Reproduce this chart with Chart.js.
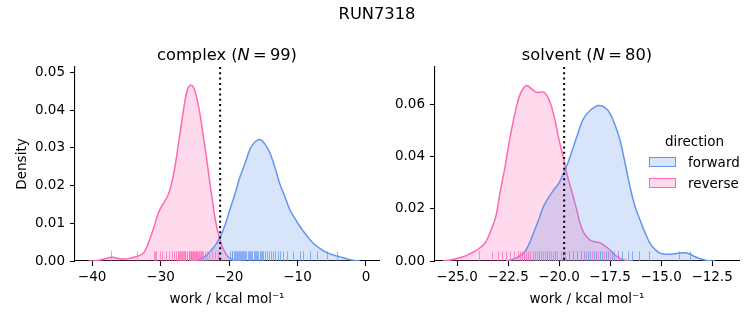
<!DOCTYPE html>
<html><head><meta charset="utf-8">
<script src="https://cdn.jsdelivr.net/npm/chart.js@4"></script>
<style>
body{margin:0;background:#fff;width:753px;height:325px;position:relative;overflow:hidden;font-family:"DejaVu Sans",sans-serif;color:#000}
canvas{position:absolute;top:0}
.t{position:absolute;white-space:nowrap;transform:translate(-50%,-50%);z-index:2}
.l{position:absolute;white-space:nowrap;transform:translateY(-50%);z-index:2;font-size:13.5px}
.p{position:absolute;box-sizing:border-box;width:27px;height:10.5px;z-index:2}
</style></head><body>
<canvas id="c1" width="380" height="325" style="left:0"></canvas>
<canvas id="c2" width="373" height="325" style="left:380px"></canvas>
<div class="t" style="left:377px;top:13px;font-size:16.3px">RUN7318</div>
<div class="t" style="left:227px;top:54px;font-size:16.3px">complex (<i>N</i>&#8201;=&#8201;99)</div>
<div class="t" style="left:587px;top:54px;font-size:16.3px">solvent (<i>N</i>&#8201;=&#8201;80)</div>
<div class="t" style="left:694.5px;top:141px;font-size:13.5px">direction</div>
<div class="p" style="left:649px;top:156.5px;background:rgba(100,149,237,0.25);border:1.5px solid rgb(100,149,237)"></div>
<div class="l" style="left:688px;top:162px">forward</div>
<div class="p" style="left:649px;top:177.5px;background:rgba(255,105,180,0.25);border:1.5px solid rgb(255,105,180)"></div>
<div class="l" style="left:688px;top:183px">reverse</div>
<script>
// ---------- data ----------
const complexForwardX = [-25.5,-24.5,-23.5,-22.8,-22.0,-21.3,-20.6,-19.9,-19.1,-18.4,-17.6,-16.9,-16.2,-15.5,-14.8,-14.0,-13.3,-12.6,-11.8,-11.1,-10.3,-9.6,-8.6,-7.7,-6.7,-5.7,-4.8,-3.8,-2.8,-1.85,-0.9];
const complexForwardY = [0,0.0003,0.0012,0.0025,0.0042,0.0064,0.0095,0.0135,0.018,0.0223,0.0262,0.0298,0.0316,0.0322,0.0311,0.0285,0.0248,0.0205,0.0168,0.0135,0.011,0.009,0.0066,0.0047,0.0033,0.0022,0.0016,0.0011,0.0006,0.0002,0];
const complexReverseX = [-40.5,-39.5,-38.5,-37.5,-37.0,-36.3,-35.4,-34.5,-33.5,-32.8,-32.4,-32.0,-31.5,-31.0,-30.5,-30.0,-29.4,-28.9,-28.4,-27.9,-27.4,-26.9,-26.4,-26.0,-25.6,-25.2,-24.8,-24.3,-23.8,-23.3,-22.8,-22.3,-21.8,-21.3,-20.8,-20.2,-19.6,-18.8,-18.0];
const complexReverseY = [0,0.0001,0.0004,0.0009,0.001,0.0007,0.0005,0.0007,0.0012,0.0017,0.0023,0.0037,0.0062,0.0088,0.0118,0.014,0.0158,0.0175,0.0205,0.025,0.031,0.037,0.0428,0.0458,0.0466,0.046,0.0438,0.0395,0.0335,0.0275,0.0206,0.0144,0.009,0.0055,0.003,0.0012,0.0004,0.0001,0];
const solventForwardX = [-22.6,-22.2,-21.75,-21.5,-21.26,-21.0,-20.77,-20.5,-20.28,-20.0,-19.79,-19.55,-19.3,-19.05,-18.81,-18.48,-18.07,-17.75,-17.5,-17.25,-17.01,-16.75,-16.52,-16.28,-16.03,-15.78,-15.54,-15.3,-15.05,-14.7,-14.4,-13.91,-13.6,-13.42,-13.1,-12.76,-12.35];
const solventForwardY = [0,0.0008,0.003,0.006,0.0106,0.0158,0.0208,0.0245,0.0271,0.03,0.0335,0.038,0.0437,0.0495,0.0545,0.0577,0.0596,0.0588,0.0565,0.052,0.0463,0.037,0.0284,0.021,0.0157,0.0108,0.0068,0.0045,0.003,0.0026,0.0027,0.0032,0.0028,0.0019,0.0009,0.0002,0];
const solventReverseX = [-25.7,-25.2,-24.7,-24.3,-23.9,-23.6,-23.4,-23.1,-22.9,-22.65,-22.4,-22.15,-21.9,-21.6,-21.35,-21.1,-20.85,-20.7,-20.5,-20.36,-20.2,-20.03,-19.8,-19.62,-19.35,-19.13,-18.97,-18.8,-18.64,-18.48,-18.2,-17.99,-17.75,-17.5,-17.25,-17.0,-16.7,-16.4];
const solventReverseY = [0,0.0006,0.0016,0.003,0.0049,0.0072,0.0106,0.017,0.0259,0.036,0.0475,0.057,0.0641,0.0673,0.066,0.0647,0.0648,0.0645,0.062,0.059,0.054,0.0475,0.04,0.0335,0.026,0.0195,0.0144,0.011,0.0093,0.008,0.0073,0.007,0.0058,0.0042,0.0022,0.001,0.0002,0];

const complexForwardRug = [-19.8,-19.6,-19.5,-19.3,-19.2,-19.0,-18.9,-18.7,-18.6,-18.4,-18.3,-18.1,-18.0,-17.8,-17.6,-17.5,-17.3,-17.1,-16.9,-16.8,-16.6,-16.4,-16.2,-16.0,-15.9,-15.7,-15.5,-15.3,-15.2,-15.0,-14.7,-14.5,-14.2,-13.9,-13.6,-13.3,-12.9,-12.5,-12.1,-11.6,-10.6,-9.6,-9.2,-8.2,-7.2,-5.7,-4.2];
const complexReverseRug = [-37.3,-33.4,-31.0,-30.8,-30.6,-30.1,-29.8,-29.2,-28.8,-28.3,-28.0,-27.7,-27.5,-27.4,-27.3,-27.1,-27.0,-26.9,-26.7,-26.6,-26.5,-26.4,-26.2,-26.1,-25.9,-25.8,-25.7,-25.6,-25.5,-25.4,-25.3,-25.2,-25.1,-25.0,-24.9,-24.8,-24.7,-24.5,-24.4,-24.2,-24.1,-24.0,-23.8,-23.5,-23.2,-22.9,-22.5,-22.0,-21.6];
const solventForwardRug = [-21.0,-20.6,-20.2,-19.8,-19.5,-19.3,-19.1,-18.9,-18.8,-18.6,-18.5,-18.3,-18.2,-18.0,-17.9,-17.7,-17.6,-17.4,-17.3,-17.1,-16.9,-16.6,-16.4,-16.1,-15.6,-14.1,-13.6];
const solventReverseRug = [-23.9,-23.3,-23.0,-22.8,-22.6,-22.4,-22.2,-22.0,-21.9,-21.8,-21.7,-21.6,-21.5,-21.4,-21.3,-21.2,-21.1,-21.0,-20.9,-20.8,-20.7,-20.6,-20.5,-20.4,-20.3,-20.2,-20.1,-19.9,-19.7,-19.5,-19.3,-19.1,-18.9,-18.7,-18.4,-18.1,-17.8,-17.5,-17.1];

const complexDashedX = -21.3;
const solventDashedX = -19.75;

const complexXTicks = [-40,-30,-20,-10,0];
const complexYTicks = [0,0.01,0.02,0.03,0.04,0.05];
const solventXTicks = [-25,-22.5,-20,-17.5,-15,-12.5];
const solventYTicks = [0,0.02,0.04,0.06];

// ---------- styling ----------
const BLUE = 'rgb(100,149,237)', BLUE_F = 'rgba(100,149,237,0.25)', BLUE_R = 'rgba(100,149,237,0.7)';
const PINK = 'rgb(255,105,180)', PINK_F = 'rgba(255,105,180,0.25)', PINK_R = 'rgba(255,105,180,0.7)';
const FONT = {family:'"DejaVu Sans", sans-serif', size:13.5};
const minus = s => s.replace('-', '\u2212');

const rugPlugin = {
  id:'rug',
  afterDatasetsDraw(chart, args, opts){
    const {ctx, chartArea:a, scales:{x}} = chart;
    const h = (a.bottom - a.top) * opts.frac;
    ctx.save();
    ctx.beginPath(); ctx.rect(a.left, a.top, a.right-a.left, a.bottom-a.top); ctx.clip();
    ctx.lineWidth = 1;
    for (const s of opts.series){
      ctx.strokeStyle = s.color;
      for (const v of s.values){
        const px = Math.round(x.getPixelForValue(v)) + 0.5;
        ctx.beginPath(); ctx.moveTo(px, a.bottom); ctx.lineTo(px, a.bottom - h); ctx.stroke();
      }
    }
    ctx.restore();
    const px = x.getPixelForValue(opts.vline);
    ctx.save();
    ctx.strokeStyle = '#000'; ctx.lineWidth = 2; ctx.setLineDash([2,3.3]);
    ctx.beginPath(); ctx.moveTo(px, a.top); ctx.lineTo(px, a.bottom); ctx.stroke();
    ctx.restore();
  }
};

const pts = (xs, ys) => xs.map((v,i)=>({x:v, y:ys[i]}));
const ds = (xs, ys, line, fill) => ({data:pts(xs,ys), borderColor:line, backgroundColor:fill, fill:'origin', borderWidth:1.5, pointRadius:0, tension:0.4});

function makeChart(id, cfg){
  return new Chart(document.getElementById(id), {
    type:'line',
    data:{datasets:[ds(cfg.fx, cfg.fy, BLUE, BLUE_F), ds(cfg.rx, cfg.ry, PINK, PINK_F)]},
    plugins:[rugPlugin],
    options:{
      responsive:false, animation:false, devicePixelRatio:1,
      layout:{padding:cfg.pad},
      plugins:{legend:{display:false}, tooltip:{enabled:false},
        rug:{frac:0.05, vline:cfg.vline, series:[{values:cfg.fRug, color:BLUE_R},{values:cfg.rRug, color:PINK_R}]}},
      scales:{
        x:{type:'linear', min:cfg.xmin, max:cfg.xmax,
          afterBuildTicks:s=>{s.ticks = cfg.xt.map(v=>({value:v}));},
          afterFit:s=>{s.height = 50;},
          grid:{drawOnChartArea:false, drawTicks:true, tickLength:5, tickColor:'#000', tickWidth:1.1},
          border:{display:true, color:'#000', width:1.1},
          ticks:{color:'#000', font:FONT, padding:3, maxRotation:0, autoSkip:false,
            callback:v=>minus(cfg.xdec ? v.toFixed(1) : String(v))},
          title:{display:true, text:'work / kcal mol\u207B\u00B9', color:'#000', font:FONT, padding:{top:0,bottom:3}}
        },
        y:{type:'linear', min:0, max:cfg.ymax,
          afterBuildTicks:s=>{s.ticks = cfg.yt.map(v=>({value:v}));},
          afterFit:s=>{s.width = cfg.yw;},
          grid:{drawOnChartArea:false, drawTicks:true, tickLength:5, tickColor:'#000', tickWidth:1.1},
          border:{display:true, color:'#000', width:1.1},
          ticks:{color:'#000', font:FONT, padding:5, autoSkip:false, callback:v=>v.toFixed(2)},
          title:{display:cfg.ytitle, text:'Density', color:'#000', font:FONT, padding:{top:14,bottom:0}}
        }
      }
    }
  });
}

makeChart('c1', {fx:complexForwardX, fy:complexForwardY, rx:complexReverseX, ry:complexReverseY,
  fRug:complexForwardRug, rRug:complexReverseRug, vline:complexDashedX,
  xmin:-42.5, xmax:1.9, ymax:0.0514, xt:complexXTicks, yt:complexYTicks, xdec:false,
  yw:75, ytitle:true, pad:{left:0,right:1,top:67,bottom:14}});
makeChart('c2', {fx:solventForwardX, fy:solventForwardY, rx:solventReverseX, ry:solventReverseY,
  fRug:solventForwardRug, rRug:solventReverseRug, vline:solventDashedX,
  xmin:-26.08, xmax:-11.18, ymax:0.0744, xt:solventXTicks, yt:solventYTicks, xdec:true,
  yw:55, ytitle:false, pad:{left:0,right:14,top:67,bottom:14}});
</script>
</body></html>
